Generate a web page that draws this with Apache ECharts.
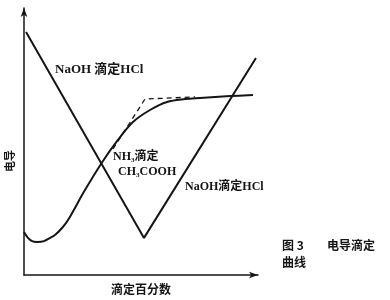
<!DOCTYPE html>
<html><head><meta charset="utf-8">
<script src="https://cdn.jsdelivr.net/npm/echarts@6/dist/echarts.min.js"></script>
<style>html,body{margin:0;padding:0;background:#fff}#c{width:390px;height:300px}</style>
</head><body><div id="c"></div>
<script>
// x: titration percent, y: conductance (arbitrary units)
const naohHclX = [1.7, 100, 193.3];
const naohHclY = [91.0, 13.9, 81.3];
const nh3X = [0, 3.3, 6.7, 10.8, 16.7, 21.7, 25.8, 31.7, 36.7, 50.8, 65.8, 78.3, 90.8, 105, 119.2, 134.2, 146.7, 171.7, 190.8];
const nh3Y = [16.1, 13.9, 12.7, 12.4, 12.7, 13.9, 15.0, 17.6, 20.6, 31.8, 42.7, 50.6, 57.3, 61.8, 64.8, 65.9, 66.3, 67.0, 67.4];
const dashX = [74.2, 100.8, 142.5];
const dashY = [47.2, 65.9, 66.7];
const xName = '滴定百分数';
const yName = '电导';

const zip = (a, b) => a.map((v, i) => [v, b[i]]);
const ink = '#151515';
const latin = '"Liberation Serif", "Noto Sans CJK SC", serif';
const cjk = '"Noto Sans CJK SC", sans-serif';

const chart = echarts.init(document.getElementById('c'));
chart.setOption({
  animation: false,
  backgroundColor: '#fff',
  grid: {left: 24, right: 132, top: 8, bottom: 25, containLabel: false, outerBoundsMode: 'none'},
  xAxis: {
    type: 'value', min: 0, max: 195,
    axisLine: {show: true, symbol: ['none', 'arrow'], symbolSize: [5, 9], lineStyle: {color: ink, width: 1.5}},
    axisTick: {show: false}, axisLabel: {show: false}, splitLine: {show: false},
    name: xName, nameLocation: 'middle', nameGap: 8,
    nameTextStyle: {fontFamily: cjk, fontSize: 12, fontWeight: 'bold', color: ink}
  },
  yAxis: {
    type: 'value', min: 0, max: 100,
    axisLine: {show: true, symbol: ['none', 'arrow'], symbolSize: [5, 9], lineStyle: {color: ink, width: 1.5}},
    axisTick: {show: false}, axisLabel: {show: false}, splitLine: {show: false}
  },
  series: [
    {type: 'line', data: zip(naohHclX, naohHclY), symbol: 'none', lineStyle: {color: ink, width: 2}},
    {type: 'line', data: zip(nh3X, nh3Y), symbol: 'none', smooth: 0.35, lineStyle: {color: ink, width: 2}},
    {type: 'line', data: zip(dashX, dashY), symbol: 'none', lineStyle: {color: ink, width: 1.3, type: [5, 4]}}
  ],
  graphic: [
    {type: 'text', x: 10, y: 161, rotation: Math.PI / 2, style: {text: yName, font: 'bold 11px ' + cjk, fill: ink, align: 'center', verticalAlign: 'middle'}},
    {type: 'text', x: 55, y: 63, style: {text: 'NaOH 滴定HCl', font: 'bold 13px ' + latin, fill: ink}},
    {type: 'text', x: 113, y: 151, style: {text: 'NH₃滴定', font: 'bold 12px ' + latin, fill: ink}},
    {type: 'text', x: 118, y: 166, style: {text: 'CH₃COOH', font: 'bold 12px ' + latin, fill: ink}},
    {type: 'text', x: 185, y: 181, style: {text: 'NaOH滴定HCl', font: 'bold 12px ' + latin, fill: ink}},
    {type: 'text', x: 282, y: 239, style: {text: '图 3', font: 'bold 12px ' + cjk, fill: ink}},
    {type: 'text', x: 327, y: 239, style: {text: '电导滴定', font: 'bold 12px ' + cjk, fill: ink}},
    {type: 'text', x: 282, y: 256, style: {text: '曲线', font: 'bold 12px ' + cjk, fill: ink}}
  ]
});
</script></body></html>
